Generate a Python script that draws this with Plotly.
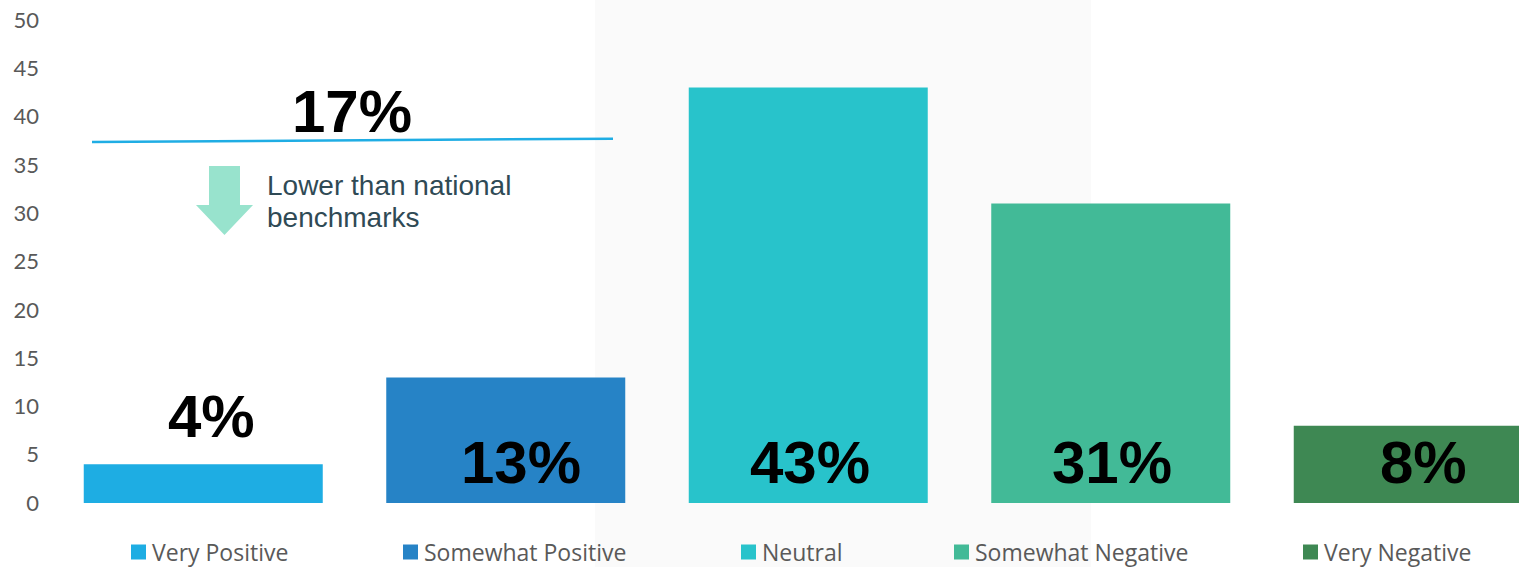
import plotly.graph_objects as go

# ---- data ----
categories = ["Very Positive", "Somewhat Positive", "Neutral", "Somewhat Negative", "Very Negative"]
values = [4, 13, 43, 31, 8]
value_labels = ["4%", "13%", "43%", "31%", "8%"]
bar_colors = ["#1EADE3", "#2683C6", "#28C3CB", "#42BA97", "#3E8853"]
benchmark_label = "17%"
benchmark_note = ["Lower than national", "benchmarks"]
y_ticks = [0, 5, 10, 15, 20, 25, 30, 35, 40, 45, 50]

# ---- layout geometry (pixels) ----
W, H = 1519, 567
L, R, T, B = 52, 0, 20, 64
plot_w = W - L - R
plot_h = H - T - B
cat_pitch = 302.5
x_range = [-0.5, -0.5 + plot_w / cat_pitch]
y_range = [0, 50]


def px2x(px):
    return (px - L) / cat_pitch - 0.5


def py2y(py):
    return (H - B - py) / plot_h * (y_range[1] - y_range[0])


def px2paper(px):
    return (px - L) / plot_w


def py2paper(py):
    return (H - B - py) / plot_h


fig = go.Figure()
fig.add_trace(go.Bar(
    x=categories, y=values,
    marker=dict(color=bar_colors, line=dict(width=0)),
    showlegend=False, hoverinfo="skip",
))

shapes = []
annotations = []

# light grey background band
shapes.append(dict(type="rect", xref="paper", yref="paper",
                   x0=px2paper(595), x1=px2paper(1091), y0=py2paper(H), y1=py2paper(0),
                   fillcolor="#FAFAFA", line=dict(width=0), layer="below"))

# benchmark line
shapes.append(dict(type="line", xref="x", yref="y",
                   x0=px2x(92), y0=py2y(142), x1=px2x(613), y1=py2y(138.7),
                   line=dict(color="#1FADE4", width=2.5)))

# down arrow
pts = [(209, 166), (240, 166), (240, 205), (253, 205), (224.5, 235), (196, 205), (209, 205)]
path = "M " + " L ".join(f"{px2x(a):.4f},{py2y(b):.4f}" for a, b in pts) + " Z"
shapes.append(dict(type="path", xref="x", yref="y", path=path,
                   fillcolor="#98E3CD", line=dict(width=0)))

annotations.append(dict(xref="x", yref="y", x=px2x(352), y=py2y(111),
                        text=f"<b>{benchmark_label}</b>", showarrow=False,
                        font=dict(family="Liberation Sans", size=60, color="#000000"),
                        xanchor="center", yanchor="middle"))
for i, (line_txt, cy) in enumerate(zip(benchmark_note, [185, 217])):
    annotations.append(dict(xref="x", yref="y", x=px2x(265), y=py2y(cy),
                            text=line_txt, showarrow=False,
                            font=dict(family="Liberation Sans", size=28, color="#2F4A55"),
                            xanchor="left", yanchor="middle"))

# value labels
label_xshift = [8, 15, 2, 1, 10]
for i, (cat, v, t) in enumerate(zip(categories, values, value_labels)):
    if v < 5:
        y, ys = v, 47.5
    else:
        y, ys = 0, 41
    annotations.append(dict(xref="x", yref="y", x=i, y=y, yshift=ys, xshift=label_xshift[i],
                            text=f"<b>{t}</b>", showarrow=False,
                            font=dict(family="Liberation Sans", size=60, color="#000000"),
                            xanchor="center", yanchor="middle"))

# custom legend
legend_px = [131, 403, 741, 954, 1303]
sq = 15
leg_cy = 552
for cat, col, lx in zip(categories, bar_colors, legend_px):
    shapes.append(dict(type="rect", xref="paper", yref="paper",
                       x0=px2paper(lx), x1=px2paper(lx + sq),
                       y0=py2paper(leg_cy + sq / 2), y1=py2paper(leg_cy - sq / 2),
                       fillcolor=col, line=dict(width=0)))
    annotations.append(dict(xref="paper", yref="paper", x=px2paper(lx + sq + 4), y=py2paper(leg_cy),
                            text=cat, showarrow=False,
                            font=dict(family="Open Sans", size=23, color="#595959"),
                            xanchor="left", yanchor="middle"))

fig.update_layout(
    width=W, height=H,
    margin=dict(l=L, r=R, t=T, b=B, pad=0),
    paper_bgcolor="white", plot_bgcolor="rgba(0,0,0,0)",
    bargap=1 - 239 / cat_pitch,
    shapes=shapes, annotations=annotations,
    showlegend=False,
    xaxis=dict(type="category", categoryorder="array", categoryarray=categories,
               range=x_range, showticklabels=False, showgrid=False, zeroline=False,
               showline=False, ticks=""),
    yaxis=dict(range=y_range, tickvals=y_ticks, showgrid=False, zeroline=False,
               showline=False, ticks="", ticklabelstandoff=12,
               tickfont=dict(family="Lato", size=22, color="#595959")),
)

fig.write_html("out.html", config={"displayModeBar": False},
               post_script="document.body.style.margin='0';document.body.style.overflow='hidden';")
